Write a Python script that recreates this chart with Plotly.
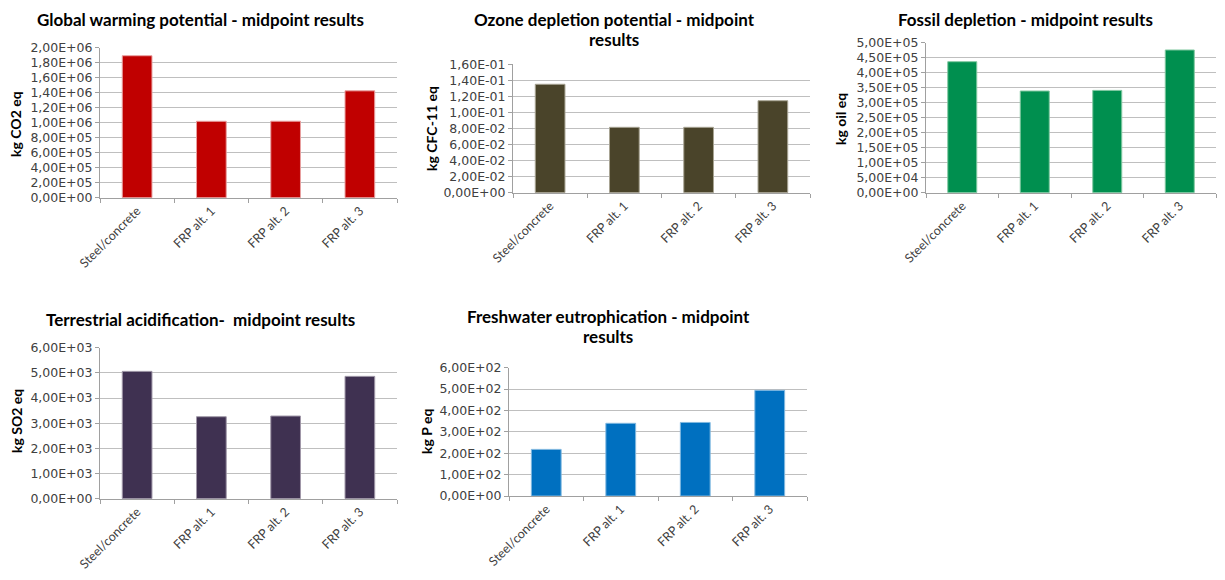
import plotly.graph_objects as go

categories = ["Steel/concrete", "FRP alt. 1", "FRP alt. 2", "FRP alt. 3"]

gwp_values = [1.893e6, 1.019e6, 1.020e6, 1.425e6]
odp_values = [0.1351, 0.0815, 0.0815, 0.1146]
fossil_values = [4.367e5, 3.39e5, 3.41e5, 4.757e5]
acid_values = [5060, 3258, 3285, 4861]
eutro_values = [218, 340, 344, 494]

gwp_ticks = [i * 2e5 for i in range(11)]
odp_ticks = [i * 0.02 for i in range(9)]
fossil_ticks = [i * 5e4 for i in range(11)]
acid_ticks = [i * 1e3 for i in range(7)]
eutro_ticks = [i * 1e2 for i in range(7)]

# each title as a list of lines
titles = [
    ["Global warming potential - midpoint results"],
    ["Ozone depletion potential - midpoint", "results"],
    ["Fossil depletion - midpoint results"],
    ["Terrestrial acidification-  midpoint results"],
    ["Freshwater eutrophication - midpoint", "results"],
]
ytitles = ["kg CO2 eq", "kg CFC-11 eq", "kg oil eq", "kg SO2 eq", "kg P eq"]
colors = ["#C00000", "#4A442A", "#008F4F", "#3F3151", "#0070C0"]
edges = ["#E8A0A0", "#A8A494", "#80C8A0", "#A098A8", "#80B8E0"]

# page body has an 8px margin; work in window pixels and shift
OFF = 8
W, H = 1225 - 2 * OFF, 580 - 2 * OFF
# plot areas in window pixels: x0, x1, ytop, ybottom
areas = [
    (100, 397, 47.7, 197.7),
    (513, 810, 64.3, 192.7),
    (926, 1216, 42.7, 192.7),
    (100, 397, 347.7, 498.7),
    (509, 807, 367.7, 496.0),
]
# title centre x, first-line y, line step
title_pos = [(200, 19.5), (614, 19.5), (1026, 19.5), (200, 319), (608, 316)]
LINE_STEP = 20.5
ytitle_pos = [(16, 124), (431, 129), (841, 119), (16, 421), (426, 432)]

all_values = [gwp_values, odp_values, fossil_values, acid_values, eutro_values]
all_ticks = [gwp_ticks, odp_ticks, fossil_ticks, acid_ticks, eutro_ticks]

FONT = "Lato, Open Sans, sans-serif"
TICKFONT = "DejaVu Sans, sans-serif"


def fmt(v):
    return f"{v:.2E}".replace(".", ",")


def px(x):
    return min(1.0, max(0.0, (x - OFF) / W))


def py(y):
    return min(1.0, max(0.0, 1 - (y - OFF) / H))


fig = go.Figure()
layout = dict(
    width=W, height=H, margin=dict(l=0, r=0, t=0, b=0, autoexpand=False),
    paper_bgcolor="white", plot_bgcolor="white", showlegend=False,
    font=dict(family=FONT, size=13, color="#404040"),
    annotations=[],
)

for i in range(5):
    n = "" if i == 0 else str(i + 1)
    x0, x1, yt, yb = areas[i]
    ticks = all_ticks[i]
    fig.add_trace(go.Bar(
        x=categories, y=all_values[i], xaxis="x" + n, yaxis="y" + n,
        marker=dict(color=colors[i], line=dict(color=edges[i], width=1)),
        width=0.4, hoverinfo="x+y",
    ))
    layout["xaxis" + n] = dict(
        domain=[px(x0), px(x1)], anchor="y" + n, type="category",
        tickangle=-45, tickson="boundaries", ticks="outside", ticklen=4,
        tickcolor="#A0A0A0", showline=True, linecolor="#A0A0A0", linewidth=1,
        showgrid=False, tickfont=dict(size=12.5, color="#404040", family=FONT),
        fixedrange=True, automargin=False,
    )
    layout["yaxis" + n] = dict(
        domain=[py(yb), py(yt)], anchor="x" + n,
        range=[0, ticks[-1]], tickvals=ticks, ticktext=[fmt(t) for t in ticks],
        ticks="outside", ticklen=4, tickcolor="#A0A0A0",
        showline=True, linecolor="#A0A0A0", linewidth=1,
        showgrid=True, gridcolor="#BFBFBF", gridwidth=1, zeroline=False,
        tickfont=dict(size=12.5, color="#404040", family=TICKFONT), fixedrange=True,
        automargin=False,
    )
    tx, ty = title_pos[i]
    for k, line in enumerate(titles[i]):
        layout["annotations"].append(dict(
            text="<b>" + line + "</b>", x=px(tx), y=py(ty + k * LINE_STEP),
            xref="paper", yref="paper", showarrow=False, xanchor="center", yanchor="middle",
            font=dict(size=17, color="#000000", family=FONT), align="center",
        ))
    ax, ay = ytitle_pos[i]
    layout["annotations"].append(dict(
        text="<b>" + ytitles[i] + "</b>", x=px(ax), y=py(ay),
        xref="paper", yref="paper", showarrow=False, xanchor="center", yanchor="middle",
        textangle=-90, font=dict(size=14, color="#000000", family=FONT),
    ))

fig.update_layout(**layout)
fig.write_html("out.html")
